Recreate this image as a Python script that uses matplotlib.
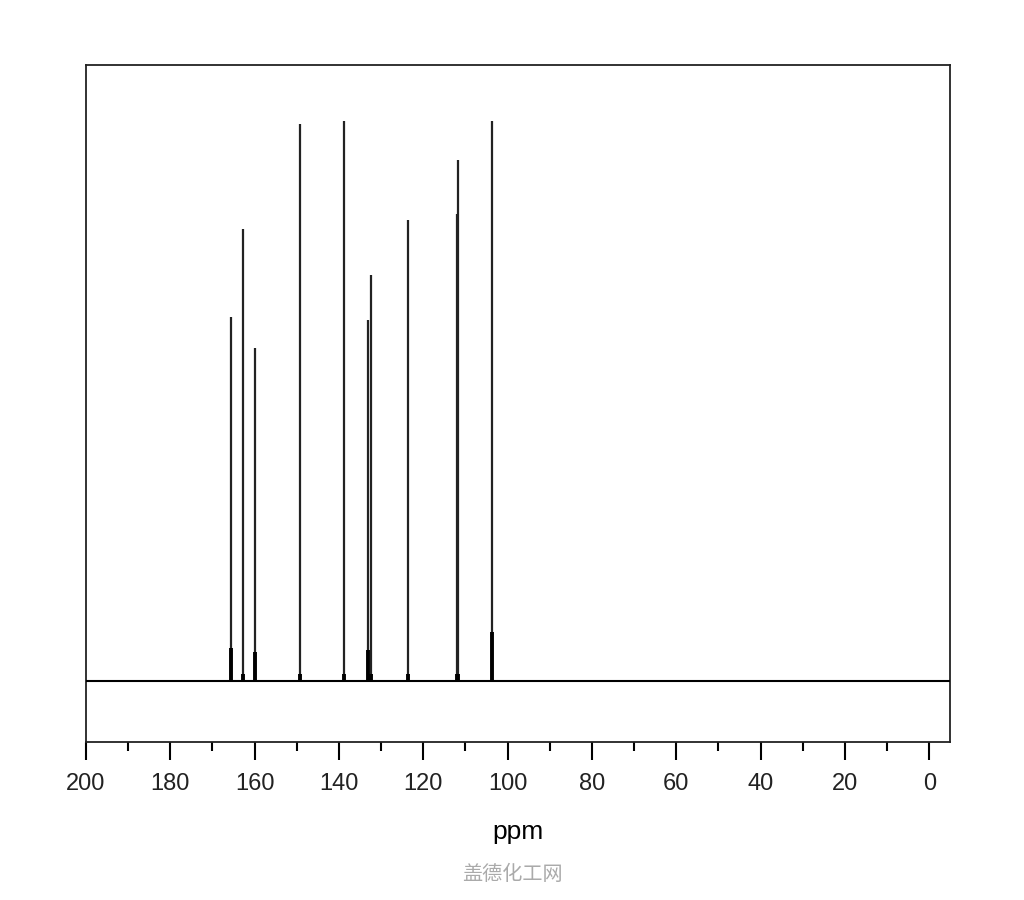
import matplotlib.pyplot as plt
import numpy as np

# peak positions (ppm) and heights (tallest = 100)
ppm = [165.6, 162.8, 159.8, 149.2, 138.8, 133.2, 132.4, 123.7, 112.0, 111.7, 103.8]
height = [65.0, 80.7, 59.5, 99.5, 100.0, 64.5, 72.5, 82.3, 83.4, 93.0, 100.0]
# broader foot at the base of each line
foot = [5.9, 1.2, 5.2, 1.2, 1.2, 5.5, 1.2, 1.2, 1.2, 1.2, 8.75]

major_ticks = [200, 180, 160, 140, 120, 100, 80, 60, 40, 20, 0]
minor_ticks = [190, 170, 150, 130, 110, 90, 70, 50, 30, 10]

fig = plt.figure(figsize=(10.24, 9), dpi=100)
ax = fig.add_axes([0.084, 0.1756, 0.844, 0.7522])

ax.axhline(0, color="black", lw=1.5, zorder=3)
ax.vlines(ppm, 0, height, color="#222222", lw=1.6)
ax.vlines(ppm, 0, foot, color="black", lw=2.8)

ax.set_xlim(200, -5)
ax.set_ylim(-10.9, 110)

ax.set_yticks([])
ax.set_xticks(major_ticks)
ax.set_xticks(minor_ticks, minor=True)
ax.tick_params(axis="x", which="major", direction="out", length=13, width=1.5,
               pad=9, labelsize=17, labelcolor="#222222")
ax.tick_params(axis="x", which="minor", direction="out", length=6.5, width=1.5)
for lab in ax.get_xticklabels():
    lab.set_fontfamily("Liberation Sans")

for s in ax.spines.values():
    s.set_linewidth(1.3)
    s.set_color("#222222")

ax.set_xlabel("ppm", fontsize=19, family="Liberation Sans", labelpad=18)

fig.text(0.5, 0.028, "盖德化工网", ha="center", va="center", fontsize=14.5,
         color="#aaaaaa", family=["Noto Sans CJK SC", "DejaVu Sans"])

fig.savefig("out.png", dpi=100)
